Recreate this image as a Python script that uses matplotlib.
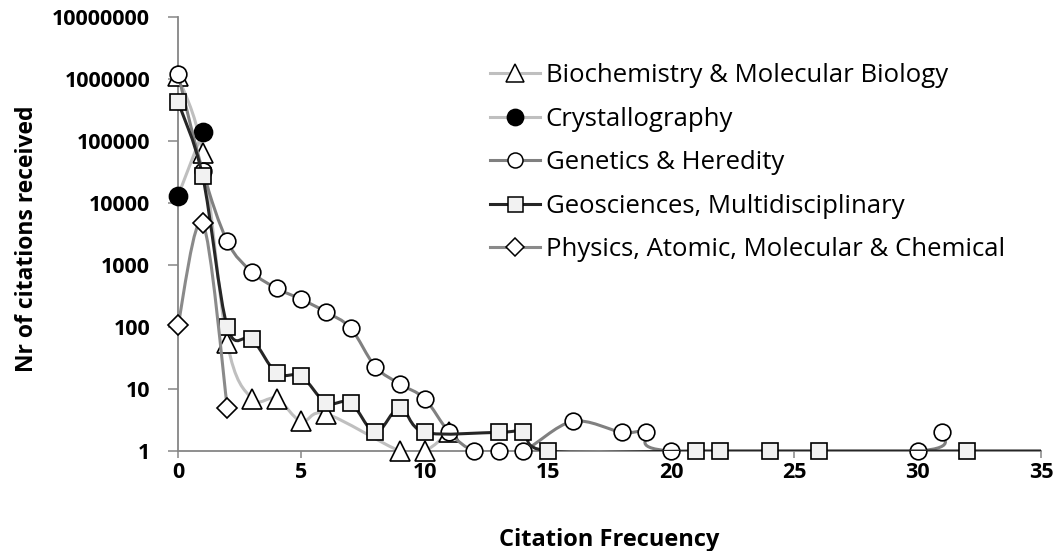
import numpy as np
import matplotlib
matplotlib.use("Agg")
import matplotlib.pyplot as plt
from matplotlib.path import Path
from matplotlib.patches import PathPatch
from matplotlib.lines import Line2D
from matplotlib.ticker import FixedLocator, NullLocator

# ---------------- data ----------------
bio_x = [0, 1, 2, 3, 4, 5, 6, 9, 10, 11]
bio_y = [1100000, 65000, 55, 7, 7, 3, 4, 1, 1, 2]

cry_x = [0, 1]
cry_y = [13000, 140000]

gen_x = [0, 1, 2, 3, 4, 5, 6, 7, 8, 9, 10, 11, 12, 13, 14, 16, 18, 19, 20, 30, 31]
gen_y = [1200000, 33000, 2400, 770, 420, 280, 175, 96, 23, 12, 7, 2, 1, 1, 1, 3, 2, 2, 1, 1, 2]

geo_x = [0, 1, 2, 3, 4, 5, 6, 7, 8, 9, 10, 13, 14, 15, 21, 22, 24, 26, 32, 36]
geo_y = [430000, 27000, 100, 64, 18, 16, 6, 6, 2, 5, 2, 2, 2, 1, 1, 1, 1, 1, 1, 1]

phy_x = [0, 1, 2]
phy_y = [107, 4800, 5]

labels = ["Biochemistry & Molecular Biology", "Crystallography", "Genetics & Heredity",
          "Geosciences, Multidisciplinary", "Physics, Atomic, Molecular & Chemical"]

y_ticks = [1, 10, 100, 1000, 10000, 100000, 1000000, 10000000]
y_tick_labels = ["1", "10", "100", "1000", "10000", "100000", "1000000", "10000000"]
x_ticks = [0, 5, 10, 15, 20, 25, 30, 35]

# ---------------- figure ----------------
plt.rcParams['font.family'] = ['Open Sans', 'DejaVu Sans']
W, H = 1056, 551
fig = plt.figure(figsize=(W / 100, H / 100), dpi=100)
L, R, T, B = 178, 1041, 17, 451
ax = fig.add_axes([L / W, 1 - B / H, (R - L) / W, (B - T) / H])
ax.set_yscale('log')
ax.set_xlim(0, 35)
ax.set_ylim(1, 10000000)

axis_col = '#868686'
for s in ['top', 'right']:
    ax.spines[s].set_visible(False)
for s in ['left', 'bottom']:
    ax.spines[s].set_color(axis_col)
    ax.spines[s].set_linewidth(1.3)

ax.yaxis.set_major_locator(FixedLocator(y_ticks))
ax.yaxis.set_minor_locator(NullLocator())
ax.set_yticklabels(y_tick_labels)
ax.set_xticks(x_ticks)
ax.tick_params(axis='y', direction='out', length=7, width=1.1, color=axis_col,
               labelsize=15.5, pad=13)
ax.tick_params(axis='x', direction='out', length=5, width=1.1, color=axis_col,
               labelsize=15.5, pad=3)
for lab in ax.get_xticklabels() + ax.get_yticklabels():
    lab.set_fontweight('bold')

ax.set_ylabel("Nr of citations received", fontsize=16.5, fontweight='bold')
ax.yaxis.set_label_coords(-0.161, 0.49)
ax.set_xlabel("Citation Frecuency", fontsize=17, fontweight='bold')
ax.xaxis.set_label_coords(0.5, -0.177)


def smooth(xs, ys):
    pts = ax.transData.transform(np.column_stack([xs, ys]).astype(float))
    n = len(pts)
    verts = [pts[0]]
    codes = [Path.MOVETO]
    for i in range(n - 1):
        p0 = pts[i - 1] if i > 0 else pts[i]
        p1 = pts[i]
        p2 = pts[i + 1]
        p3 = pts[i + 2] if i + 2 < n else pts[i + 1]
        c1 = p1 + (p2 - p0) / 6.0
        c2 = p2 - (p3 - p1) / 6.0
        verts += [c1, c2, p2]
        codes += [Path.CURVE4] * 3
    data = ax.transData.inverted().transform(np.array(verts))
    return Path(data, codes)


series = [
    (bio_x, bio_y, '#bfbfbf', '^', 'white', 14),
    (cry_x, cry_y, '#bfbfbf', 'o', 'black', 13),
    (gen_x, gen_y, '#808080', 'o', 'white', 12),
    (geo_x, geo_y, '#262626', 's', '#f2f2f2', 12),
    (phy_x, phy_y, '#8a8a8a', 'D', 'white', 10),
]

handles = []
for k, (xs, ys, lc, mk, fc, ms) in enumerate(series):
    patch = PathPatch(smooth(xs, ys), facecolor='none', edgecolor=lc, lw=2.2,
                      transform=ax.transData, zorder=2 + 2 * k)
    ax.add_patch(patch)
    ax.plot(xs, ys, linestyle='none', marker=mk, markersize=ms,
            markerfacecolor=fc, markeredgecolor='black', markeredgewidth=1.2,
            clip_on=False, zorder=3 + 2 * k)
    handles.append(Line2D([], [], color=lc, lw=2.2, marker=mk,
                          markersize=ms * 0.9, markerfacecolor=fc,
                          markeredgecolor='black', markeredgewidth=1.1))

leg = fig.legend(handles, labels, loc='upper left',
                 bbox_to_anchor=(480 / W, 1 - 53 / H), frameon=False,
                 fontsize=18.5, handlelength=1.95, handletextpad=0.2,
                 labelspacing=0.72, borderaxespad=0)

fig.savefig("out.png", dpi=100)
